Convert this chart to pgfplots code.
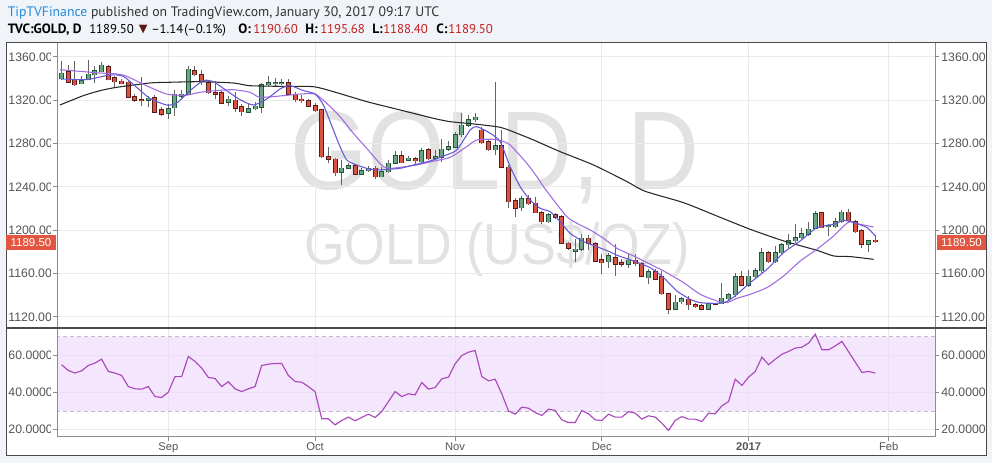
\documentclass[border=0pt]{standalone}
\usepackage{pgfplots}
\pgfplotsset{compat=1.18}
\usepackage{pgfplotstable}
\usepackage{fontspec}
\setmainfont{Liberation Sans}
\newfontfamily\hdr{PT Sans}
\newfontfamily\dejavu{DejaVu Sans}

\definecolor{bgc}{RGB}{240,243,247}
\definecolor{framec}{RGB}{74,74,74}
\definecolor{gridc}{RGB}{234,234,234}
\definecolor{labc}{RGB}{85,85,85}
\definecolor{axc}{RGB}{140,140,140}
\definecolor{wmc}{RGB}{226,226,226}
\definecolor{gfill}{RGB}{107,165,131}
\definecolor{gbord}{RGB}{34,84,55}
\definecolor{rfill}{RGB}{215,84,66}
\definecolor{rbord}{RGB}{91,26,19}
\definecolor{wickc}{RGB}{100,100,100}
\definecolor{blackma}{RGB}{40,40,40}
\definecolor{fastma}{RGB}{103,88,214}
\definecolor{slowma}{RGB}{160,108,224}
\definecolor{rsic}{RGB}{170,71,188}
\definecolor{bandc}{RGB}{238,214,250}
\definecolor{dashc}{RGB}{190,190,200}
\definecolor{tagc}{RGB}{226,85,64}
\definecolor{tipblue}{RGB}{33,140,220}
\definecolor{valred}{RGB}{196,30,30}
\definecolor{hdrc}{RGB}{50,50,50}

\pgfplotstableread{
i o h l c
-16 1339.7 1356.6 1339.0 1345.2
-15 1346.5 1352.6 1336.0 1336.6
-14 1338.5 1356.6 1333.5 1334.2
-13 1335.4 1342.8 1334.8 1338.2
-12 1339.0 1357.5 1338.5 1344.0
-11 1343.4 1352.0 1336.0 1347.1
-10 1346.5 1355.7 1345.8 1352.6
-9 1351.0 1352.6 1338.5 1339.0
-8 1341.0 1342.8 1332.3 1337.2
-7 1337.8 1339.7 1334.8 1335.4
-6 1336.6 1338.2 1322.2 1322.8
-5 1323.1 1325.8 1318.8 1320.0
-4 1320.6 1341.2 1315.0 1319.4
-3 1320.0 1324.3 1313.5 1321.8
-2 1322.2 1325.0 1308.3 1308.9
-1 1311.4 1313.5 1305.2 1307.1
0 1308.0 1316.3 1302.8 1312.0
1 1313.0 1329.8 1305.2 1325.8
2 1323.7 1329.8 1321.8 1325.8
3 1325.8 1352.0 1325.0 1348.9
4 1347.4 1352.0 1342.2 1343.4
5 1343.4 1348.3 1334.2 1337.2
6 1336.3 1338.2 1325.8 1326.8
7 1326.8 1338.2 1321.2 1325.5
8 1326.8 1328.9 1316.3 1317.2
9 1318.2 1324.3 1315.0 1321.2
10 1320.0 1327.4 1308.9 1312.9
11 1314.2 1316.6 1305.8 1309.5
12 1309.2 1316.6 1308.3 1312.0
13 1312.0 1318.2 1311.4 1314.5
14 1313.5 1336.0 1308.3 1334.2
15 1334.2 1342.8 1333.5 1336.0
16 1335.4 1340.6 1333.5 1336.0
17 1335.4 1340.0 1334.2 1336.0
18 1336.0 1339.7 1325.0 1325.8
19 1325.8 1327.4 1318.2 1320.3
20 1321.2 1325.0 1317.5 1319.4
21 1319.7 1321.2 1313.5 1314.5
22 1315.0 1317.5 1309.5 1310.2
23 1311.4 1312.0 1266.5 1267.8
24 1268.0 1277.0 1262.0 1265.5
25 1265.5 1267.0 1250.0 1253.0
26 1253.8 1265.0 1241.8 1257.2
27 1257.3 1261.9 1256.3 1259.4
28 1259.4 1261.3 1251.1 1251.7
29 1251.7 1257.3 1251.1 1254.8
30 1254.8 1259.4 1254.2 1257.1
31 1257.3 1259.4 1247.1 1249.6
32 1249.6 1258.2 1249.0 1254.2
33 1254.2 1265.0 1253.3 1261.9
34 1261.9 1273.6 1261.3 1268.6
35 1268.6 1273.6 1261.9 1262.5
36 1264.9 1268.6 1264.0 1266.5
37 1265.9 1268.0 1260.3 1264.0
38 1263.4 1275.7 1262.5 1273.3
39 1274.2 1275.7 1264.9 1266.2
40 1266.5 1274.2 1264.9 1268.0
41 1267.4 1284.0 1263.4 1274.8
42 1274.8 1282.8 1273.6 1277.3
43 1276.6 1291.1 1275.7 1288.0
44 1288.0 1308.0 1286.5 1297.2
45 1297.2 1306.5 1295.7 1301.9
46 1301.9 1308.0 1300.3 1304.3
47 1292.6 1295.7 1279.7 1281.0
48 1281.8 1283.4 1273.3 1274.2
49 1274.2 1337.2 1269.6 1277.9
50 1277.9 1292.6 1257.2 1258.2
51 1258.2 1260.3 1220.3 1226.5
52 1227.4 1229.6 1212.6 1220.3
53 1221.0 1231.7 1218.2 1229.0
54 1229.0 1232.6 1223.4 1224.3
55 1225.0 1231.1 1215.7 1216.3
56 1216.3 1218.2 1205.8 1208.0
57 1208.0 1216.3 1206.5 1214.2
58 1214.2 1216.3 1210.2 1212.0
59 1212.6 1214.2 1187.4 1188.0
60 1188.0 1189.5 1181.9 1183.4
61 1180.5 1191.7 1170.5 1182.5
62 1182.5 1196.5 1181.0 1192.8
63 1192.8 1195.7 1181.5 1187.5
64 1187.7 1189.5 1171.1 1171.5
65 1172.6 1177.8 1160.0 1170.2
66 1170.8 1179.4 1165.5 1176.3
67 1174.8 1187.1 1157.8 1168.6
68 1170.2 1173.2 1166.2 1168.6
69 1168.6 1177.8 1165.5 1172.3
70 1172.3 1178.5 1167.1 1169.2
71 1169.2 1171.1 1156.9 1157.8
72 1156.3 1164.0 1150.2 1161.9
73 1161.9 1164.0 1153.8 1154.8
74 1156.9 1162.5 1140.3 1141.5
75 1141.5 1142.5 1122.4 1127.1
76 1127.1 1140.3 1126.2 1133.8
77 1133.8 1138.4 1132.3 1136.9
78 1136.3 1139.4 1126.2 1131.1
79 1131.1 1133.2 1128.6 1129.5
80 1130.2 1132.3 1126.2 1127.1
81 1127.1 1133.2 1126.5 1132.3
82 1132.6 1133.2 1131.1 1131.7
83 1132.3 1151.7 1131.7 1137.2
84 1136.6 1142.5 1135.4 1140.3
85 1140.3 1160.9 1138.4 1156.9
86 1156.9 1162.5 1148.6 1149.2
87 1149.2 1163.1 1147.7 1157.8
88 1156.9 1165.5 1155.7 1162.5
89 1162.5 1184.0 1160.9 1179.4
90 1179.4 1180.9 1170.2 1171.1
91 1171.1 1185.5 1170.2 1179.4
92 1179.4 1188.6 1178.5 1186.5
93 1186.5 1196.9 1184.0 1190.2
94 1190.2 1206.1 1188.6 1193.2
95 1193.2 1202.5 1191.7 1196.9
96 1196.3 1208.0 1194.8 1200.9
97 1201.8 1217.8 1200.9 1215.4
98 1216.0 1217.2 1201.8 1202.5
99 1203.1 1206.1 1194.8 1204.3
100 1203.1 1211.1 1201.8 1208.0
101 1208.0 1218.4 1207.1 1216.6
102 1216.6 1219.4 1207.1 1208.6
103 1208.0 1209.2 1197.8 1198.8
104 1199.4 1200.9 1184.0 1187.1
105 1187.1 1190.8 1180.3 1190.2
106 1190.60 1195.68 1188.40 1189.50
}\candles

\pgfplotstableread{
i r
-16 55.0
-15 51.9
-14 50.5
-13 51.7
-12 54.6
-11 55.9
-10 58.0
-9 51.4
-8 50.5
-7 49.2
-6 43.2
-5 42.0
-4 41.8
-3 43.2
-2 37.8
-1 37.3
0 40.2
1 48.6
2 48.6
3 59.5
4 56.8
5 53.2
6 48.1
7 47.6
8 43.2
9 45.8
10 42.0
11 40.5
12 42.0
13 43.2
14 54.6
15 55.3
16 55.7
17 55.7
18 49.2
19 45.9
20 45.6
21 43.2
22 40.5
23 25.8
24 25.8
25 22.5
26 24.9
27 26.7
28 24.7
29 26.5
30 28.3
31 26.5
32 29.7
33 35.1
34 40.5
35 37.8
36 39.3
37 38.7
38 45.4
39 41.8
40 42.7
41 47.4
42 48.3
43 55.5
44 60.0
45 61.8
46 62.7
47 48.6
48 46.3
49 47.2
50 39.3
51 30.0
52 28.3
53 32.1
54 31.5
55 29.2
56 27.6
57 31.0
58 30.3
59 25.2
60 23.8
61 23.8
62 30.3
63 28.5
64 25.2
65 24.9
66 28.3
67 26.7
68 26.7
69 29.7
70 28.8
71 25.6
72 27.4
73 26.7
74 23.4
75 19.5
76 24.9
77 27.0
78 25.6
79 25.6
80 24.3
81 28.8
82 28.5
83 32.8
84 35.1
85 47.2
86 43.8
87 48.3
88 51.4
89 59.1
90 55.0
91 58.0
92 60.7
93 62.2
94 64.0
95 64.5
96 66.7
97 71.5
98 63.1
99 63.1
100 65.2
101 67.6
102 62.0
103 56.4
104 50.8
105 51.4
106 50.5
}\rsi

\pgfplotsset{
  base/.style={
    scale only axis, width=658.5pt,
    xmin=-16.69, xmax=114.95,
    axis line style={draw=none},
    xtick={0,22,43,65,87,108},
    tick align=outside, major tick length=3pt,
    tick label style={font=\fontsize{9.2}{11}\selectfont, text=labc},
    /pgf/number format/assume math mode=true,
    /pgf/number format/.cd, fixed, fixed zerofill, 1000 sep={},
  },
  datax/.style={
    grid=major, major grid style={draw=gridc, line width=0.75pt},
    xtick style={draw=none}, ytick style={draw=axc, line width=0.75pt},
    ytick pos=left, yticklabels={},
  },
  leftax/.style={
    xtick=\empty, ytick pos=left, yticklabel pos=left,
    ytick style={draw=none},
    yticklabel style={anchor=west, inner sep=0pt, xshift=-33.6pt},
  },
  rightax/.style={
    xtick=\empty, ytick pos=right, yticklabel pos=right,
    ytick style={draw=axc, line width=0.75pt},
    yticklabel style={anchor=west, inner sep=0pt, xshift=1.6pt},
  },
  nomark/.style={only marks, mark=*, mark size=0pt, mark options={draw=none, fill=none}},
  wick/.style={nomark, error bars/.cd, y dir=plus, y explicit, error mark=none,
    error bar style={draw=wickc, line width=0.75pt}},
  body/.style={nomark, error bars/.cd, y dir=plus, y explicit, error mark=none,
    error bar style={draw=#1, line width=3.75pt, line cap=butt}},
  bodyin/.style={nomark, error bars/.cd, y dir=plus, y explicit, error mark=none,
    error bar style={draw=#1, line width=2.25pt, line cap=butt}},
}

\begin{document}
\begin{tikzpicture}[x=0.75pt,y=0.75pt]
\fill[bgc] (0,0) rectangle (992,463);
\fill[white] (6,7) rectangle (986,420);

% watermark
\node[text=wmc, anchor=base, inner sep=0] at (495,273)
  {\fontsize{84}{84}\selectfont\scalebox{0.89}[1]{GOLD, D}};
\node[text=wmc, anchor=base, inner sep=0] at (497,198)
  {\fontsize{43.5}{44}\selectfont\scalebox{0.9}[1]{GOLD (US\$/OZ)}};

% ---------- price panel ----------
\begin{axis}[base, datax,
  at={(42.75pt,101.25pt)}, anchor=south west,
  height=213.4pt, ymin=1109.8, ymax=1372.5,
  ytick={1120,1160,...,1360}, xticklabels={},
]
\addplot[wick] table[x=i, y=l, y error expr=\thisrow{h}-\thisrow{l}] {\candles};
\addplot[body=gbord] table[x=i, y expr=\thisrow{o}-0.46,
  y error expr={ifthenelse(\thisrow{c}>\thisrow{o},\thisrow{c}-\thisrow{o}+0.92,0)}] {\candles};
\addplot[bodyin=gfill] table[x=i, y=o,
  y error expr={max(\thisrow{c}-\thisrow{o},0)}] {\candles};
\addplot[body=rbord] table[x=i, y expr=\thisrow{c}-0.46,
  y error expr={ifthenelse(\thisrow{o}>\thisrow{c},\thisrow{o}-\thisrow{c}+0.92,0)}] {\candles};
\addplot[bodyin=rfill] table[x=i, y=c,
  y error expr={max(\thisrow{o}-\thisrow{c},0)}] {\candles};

\addplot[blackma, line width=0.8pt, mark=none, smooth, tension=0.4] coordinates {
(-16.25,1315.7) (-12.75,1324.3) (-10.25,1328.9) (-7.75,1332.0) (-2.75,1336.0) (-0.25,1336.6)
(4.75,1337.2) (9.75,1336.0) (12.25,1333.5) (17.25,1332.9) (21.75,1332.6) (24.75,1328.0)
(29.75,1318.8) (34.75,1311.1) (39.75,1303.4) (42.25,1300.3) (45.75,1298.2) (49.75,1295.1)
(52.25,1289.6) (54.75,1283.4) (58.75,1272.6) (63.75,1260.3) (68.75,1245.0) (71.5,1236.0)
(77.25,1225.5) (82.25,1213.2) (87.25,1200.9) (92.25,1190.2) (97.25,1181.5) (99.75,1176.3)
(102.25,1175.7) (105.75,1173.2)};

\addplot[slowma, line width=0.8pt, mark=none, smooth, tension=0.4] coordinates {
(-16.25,1348.3) (-12.75,1346.5) (-10.25,1345.2) (-7.75,1344.3) (-6.25,1342.2) (-2.75,1332.0)
(-0.25,1325.8) (2.25,1324.3) (4.75,1327.4) (7.25,1329.0) (9.75,1329.8) (12.25,1327.4)
(13.75,1322.8) (17.25,1324.3) (19.75,1325.8) (22,1325.8) (23.75,1317.2) (25.75,1304.9)
(27.75,1289.5) (29.75,1275.7) (31.25,1264.9) (32.25,1258.7) (33.25,1257.2) (34.75,1258.1)
(37.25,1260.3) (39.5,1263.5) (42.25,1267.4) (44.75,1277.3) (46.25,1283.4) (48.75,1284.0)
(50.25,1281.9) (51.25,1278.8) (53.75,1261.9) (55.25,1249.6) (56.25,1240.3) (57.75,1228.0)
(59.75,1212.6) (61.25,1206.5) (63.25,1200.3) (65.25,1192.6) (67.25,1183.4) (69.75,1176.3)
(72.25,1168.6) (74.25,1162.5) (77.25,1151.7) (79.75,1140.9) (82.25,1134.8) (83.75,1133.2)
(85.25,1137.2) (87.25,1140.9) (89.75,1147.1) (92.25,1157.8) (94.75,1171.7) (97.25,1182.5)
(99.75,1194.8) (101.25,1204.0) (102.25,1208.0) (103.75,1205.5) (105.75,1203.1)};

\addplot[fastma, line width=0.8pt, mark=none, smooth, tension=0.4] coordinates {
(-16,1339.7) (-12.25,1339.1) (-8.75,1343.4) (-6.75,1342.2) (-4.75,1332.0) (-2.75,1321.8)
(-0.25,1315.7) (1.25,1317.5) (3.25,1328.9) (5.25,1338.2) (6.75,1337.2) (8.75,1328.9)
(10.75,1320.6) (12.75,1315.7) (14.75,1321.2) (16.75,1330.5) (18.25,1333.5) (20.25,1329.0)
(22,1325.8) (23.25,1315.7) (24.75,1292.6) (25.75,1277.2) (26.75,1264.9) (28.25,1260.3)
(29.75,1257.2) (31.25,1255.7) (32.75,1256.3) (34.75,1257.2) (36.75,1260.3) (39.25,1264.0)
(41.25,1268.5) (43.25,1274.2) (45.25,1292.6) (46.25,1295.7) (48.25,1289.6) (49.75,1281.9)
(51.25,1258.8) (52.75,1240.3) (54.25,1228.0) (55.75,1220.3) (57.25,1217.2) (58.75,1208.0)
(60.25,1197.2) (62.25,1189.6) (64.25,1184.9) (66.25,1180.0) (67.25,1177.0) (69.75,1171.7)
(72.25,1165.5) (74.25,1156.3) (76.25,1144.0) (78.25,1136.3) (79.75,1133.2) (82.25,1132.6)
(83.75,1134.2) (85.25,1140.9) (87.25,1151.7) (89.75,1164.0) (92.25,1179.4) (94.75,1190.2)
(97.25,1202.5) (99.75,1205.5) (101.25,1209.2) (102.75,1207.1) (104.75,1202.5) (106,1194.8)};
\end{axis}

% ---------- RSI panel ----------
\begin{axis}[base, datax,
  at={(42.75pt,19.5pt)}, anchor=south west,
  height=81.75pt, ymin=15.95, ymax=74.86,
  ytick={20,40,60},
  xtick style={draw=axc, line width=0.75pt}, xtick pos=left,
  xticklabels={Sep,Oct,Nov,Dec,\textbf{2017},Feb},
  xticklabel style={inner sep=1pt, font=\fontsize{8.4}{10}\selectfont},
]
\addplot[draw=none, fill=bandc, fill opacity=0.6] coordinates {(-20,30) (120,30) (120,70) (-20,70) (-20,30)};
\addplot[dashc, line width=0.75pt, dash pattern=on 3pt off 2.25pt] coordinates {(-20,30) (120,30)};
\addplot[dashc, line width=0.75pt, dash pattern=on 3pt off 2.25pt] coordinates {(-20,70) (120,70)};
\addplot[rsic, line width=0.85pt, mark=none] table[x=i, y=r] {\rsi};
\end{axis}

% ---------- left labels (clipped like the reference) ----------
\begin{scope}
\clip (6,7) rectangle (50.5,420);
\begin{axis}[base, leftax,
  at={(42.75pt,101.25pt)}, anchor=south west,
  height=213.4pt, ymin=1109.8, ymax=1372.5,
  ytick={1120,1160,...,1360},
  /pgf/number format/precision=2,
]
\addplot[draw=none] coordinates {(0,1200)};
\end{axis}
\begin{axis}[base, leftax,
  at={(42.75pt,19.5pt)}, anchor=south west,
  height=81.75pt, ymin=15.95, ymax=74.86,
  ytick={20,40,60},
  /pgf/number format/precision=4,
]
\addplot[draw=none] coordinates {(0,40)};
\end{axis}
\end{scope}

% ---------- right labels (clipped at the frame) ----------
\begin{scope}
\clip (934,7) rectangle (985.5,420);
\begin{axis}[base, rightax,
  at={(42.75pt,101.25pt)}, anchor=south west,
  height=213.4pt, ymin=1109.8, ymax=1372.5,
  ytick={1120,1160,...,1360},
  /pgf/number format/precision=2,
]
\addplot[draw=none] coordinates {(0,1200)};
\end{axis}
\begin{axis}[base, rightax,
  at={(42.75pt,19.5pt)}, anchor=south west,
  height=81.75pt, ymin=15.95, ymax=74.86,
  ytick={20,40,60},
  /pgf/number format/precision=4,
]
\addplot[draw=none] coordinates {(0,40)};
\end{axis}
\end{scope}

% frame lines
\draw[axc, line width=0.75pt] (57,26) -- (57,420);
\draw[axc, line width=0.75pt] (935,26) -- (935,420);
\draw[axc, line width=0.75pt] (57,26) -- (935,26);
\draw[framec, line width=0.9pt] (6,135) -- (986,135);
\draw[framec, line width=0.75pt] (6,7) rectangle (986,420);

% price tags
\fill[tagc] (937,213) rectangle (986,228);
\node[text=white, font=\fontsize{8.6}{10}\selectfont] at (961.5,220.5) {1189.50};
\fill[tagc] (6,213) rectangle (56,228);
\node[text=white, font=\fontsize{8.6}{10}\selectfont] at (31,220.5) {1189.50};

% header
\node[anchor=base west, inner sep=0, text=hdrc, font=\hdr\fontsize{10.3}{12}\selectfont] at (7.5,446.3)
  {\textcolor{tipblue}{TipTVFinance} published on TradingView.com, January 30, 2017 09:17 UTC};
\begin{scope}[every node/.style={anchor=base west, inner sep=0, text=black, font=\hdr\fontsize{9.6}{12}\selectfont}]
\node[font=\hdr\fontsize{10.1}{12}\selectfont] at (7.5,429.7) {\textbf{TVC:GOLD, D}};
\node at (89,429.7) {1189.50};
\node[text=rbord] at (138.5,430.5) {\dejavu\fontsize{8.5}{10}\selectfont ▼};
\node at (151,429.7) {–1.14};
\node at (184,429.7) {(–0.1\%)};
\node[font=\hdr\fontsize{10.1}{12}\selectfont] at (238,429.7) {\textbf{O:}};
\node[text=valred] at (253,429.7) {1190.60};
\node[font=\hdr\fontsize{10.1}{12}\selectfont] at (305,429.7) {\textbf{H:}};
\node[text=valred] at (320,429.7) {1195.68};
\node[font=\hdr\fontsize{10.1}{12}\selectfont] at (372,429.7) {\textbf{L:}};
\node[text=valred] at (383,429.7) {1188.40};
\node[font=\hdr\fontsize{10.1}{12}\selectfont] at (436,429.7) {\textbf{C:}};
\node[text=valred] at (448,429.7) {1189.50};
\end{scope}
\end{tikzpicture}
\end{document}
